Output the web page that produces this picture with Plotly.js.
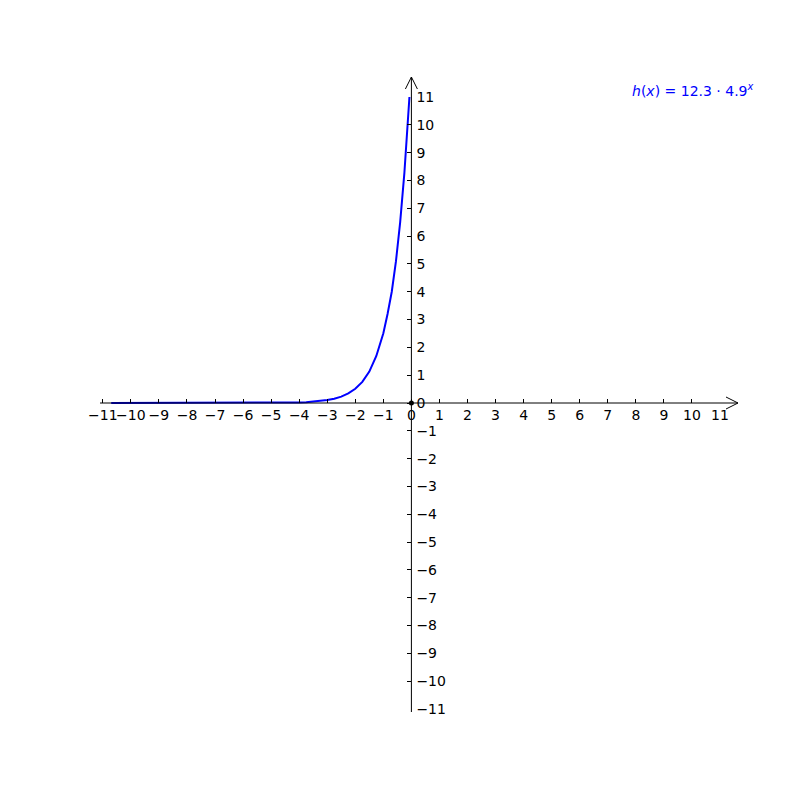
<!DOCTYPE html>
<html>
<head>
<meta charset="utf-8">
<script src="https://cdn.plot.ly/plotly-3.0.1.min.js"></script>
<style>
  html, body { margin: 0; padding: 0; background: #fff; }
  #chart { width: 800px; height: 800px; }
</style>
</head>
<body>
<div id="chart"></div>
<script>
const xVals = [-10.7, -9, -8, -7, -6, -5, -4.5, -4, -3.75, -3.5, -3.25, -3, -2.75, -2.5, -2.25, -2, -1.75,
  -1.5, -1.25, -1, -0.85, -0.7, -0.55, -0.4, -0.25, -0.15, -0.07];
const hVals = [0.0, 0.0, 0.0, 0.0, 0.001, 0.004, 0.01, 0.021, 0.031, 0.047, 0.071, 0.105, 0.156, 0.23, 0.344, 0.51, 0.76,
  1.13, 1.69, 2.51, 3.2, 4.0, 5.1, 6.5, 8.27, 9.7, 11.0];
const tickVals = [-11, -10, -9, -8, -7, -6, -5, -4, -3, -2, -1, 0, 1, 2, 3, 4, 5, 6, 7, 8, 9, 10, 11];
const formulaLabel = "<i>h</i>(<i>x</i>) = 12.3 · 4.9<sup><i>x</i></sup>";

const xRange = [-11.1, 11];
const yRange = [-11, 11];
const plotW = 620, plotH = 612;

// data -> paper helpers, plus pixel offsets
const px = (x, dpx) => (x - xRange[0]) / (xRange[1] - xRange[0]) + (dpx || 0) / plotW;
const py = (y, dpy) => (y - yRange[0]) / (yRange[1] - yRange[0]) + (dpy || 0) / plotH;

const ox = px(0), oy = py(0);
const xEnd = 1 + 18 / plotW;   // arrow tip to the right of the axes box
const yEnd = 1 + 20 / plotH;   // arrow tip above the axes box

const axisLine = { color: "black", width: 1 };
const shapes = [
  { type: "line", xref: "paper", yref: "paper", x0: 0, x1: xEnd, y0: oy, y1: oy, line: axisLine },
  { type: "line", xref: "paper", yref: "paper", x0: ox, x1: ox, y0: py(0, -309), y1: yEnd, line: axisLine },
  { type: "path", xref: "paper", yref: "paper", line: axisLine,
    path: `M ${xEnd - 12 / plotW} ${oy + 6 / plotH} L ${xEnd} ${oy} L ${xEnd - 12 / plotW} ${oy - 6 / plotH}` },
  { type: "path", xref: "paper", yref: "paper", line: axisLine,
    path: `M ${ox - 6 / plotW} ${yEnd - 12 / plotH} L ${ox} ${yEnd} L ${ox + 6 / plotW} ${yEnd - 12 / plotH}` }
];

const traces = [
  {
    x: xVals, y: hVals, type: "scatter", mode: "lines",
    line: { color: "#0000ff", width: 2 }, hoverinfo: "skip"
  },
  {
    x: [0], y: [0], type: "scatter", mode: "markers",
    marker: { color: "black", size: 5 }, hoverinfo: "skip"
  }
];

const tickFont = { family: "DejaVu Sans", size: 14, color: "black" };

const layout = {
  width: 800, height: 800,
  margin: { l: 100, r: 80, t: 97, b: 91, pad: 0 },
  paper_bgcolor: "white", plot_bgcolor: "white",
  showlegend: false,
  xaxis: {
    range: xRange, tickvals: tickVals, ticks: "inside", ticklen: 4, tickcolor: "black",
    showgrid: false, zeroline: false, showline: false, tickangle: 0,
    anchor: "free", position: oy, side: "bottom", tickfont: tickFont, ticklabelstandoff: 2
  },
  yaxis: {
    range: yRange, tickvals: tickVals, ticks: "inside", ticklen: 4, tickcolor: "black",
    showgrid: false, zeroline: false, showline: false,
    anchor: "free", position: ox, side: "right", tickfont: tickFont, ticklabelstandoff: 4
  },
  shapes: shapes,
  annotations: [
    {
      text: formulaLabel, xref: "paper", yref: "paper",
      x: px(0, 345), y: py(0, 313), xanchor: "right", yanchor: "middle",
      showarrow: false, font: { family: "DejaVu Sans", size: 14, color: "#0000ff" }
    }
  ]
};

Plotly.newPlot("chart", traces, layout, { staticPlot: true });
</script>
</body>
</html>
